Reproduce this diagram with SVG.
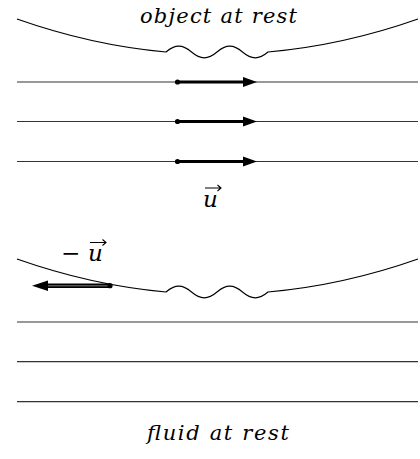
<svg xmlns="http://www.w3.org/2000/svg" width="420" height="459" viewBox="0 0 420 459">
<style>
.surf{fill:none;stroke:#000;stroke-width:1.1}
.stream{fill:none;stroke:#333;stroke-width:1.2}
.shaft{stroke:#000;stroke-width:3.2;fill:none}
.head{fill:#000}
.acc{fill:none;stroke:#000;stroke-width:1.1}
</style>
<rect fill="#fff" width="420" height="459"/>
<g id="object-top">
<path class="surf" d="M17 19 Q91.5 45.3 166 52 C175.2 44.2 182.3 44.2 191.5 52 C200.7 59.8 207.8 59.8 217 52 C226.2 44.2 233.3 44.2 242.5 52 C251.7 59.8 258.8 59.8 268 52 Q343.5 45.3 418 19"/>
<text x="140" y="23" font-family="DejaVu Serif, serif" font-style="italic" font-size="21" textLength="157" lengthAdjust="spacing">object at rest</text>
</g>
<g id="streamlines-top">
<line class="stream" x1="17" y1="82" x2="418" y2="82"/>
<line class="stream" x1="17" y1="121.5" x2="418" y2="121.5"/>
<line class="stream" x1="17" y1="161.5" x2="418" y2="161.5"/>
</g>
<g id="connectors">
<g id="u-arrows">
<line class="shaft" x1="177" y1="82" x2="245" y2="82"/>
<circle cx="177.5" cy="82" r="2.6" class="head"/>
<polygon class="head" points="243,77 257,82 243,87"/>
<line class="shaft" x1="177" y1="121.5" x2="245" y2="121.5"/>
<circle cx="177.5" cy="121.5" r="2.6" class="head"/>
<polygon class="head" points="243,116.5 257,121.5 243,126.5"/>
<line class="shaft" x1="177" y1="161.5" x2="245" y2="161.5"/>
<circle cx="177.5" cy="161.5" r="2.6" class="head"/>
<polygon class="head" points="243,156.5 257,161.5 243,166.5"/>
</g>
<g id="minus-u-arrow">
<line stroke="#000" stroke-width="4.6" x1="46" y1="285.7" x2="110" y2="285.7"/>
<line stroke="#555" stroke-width="1.4" x1="46" y1="285.7" x2="108" y2="285.7"/>
<circle cx="110" cy="285.7" r="2.6" class="head"/>
<polygon class="head" points="48,280.5 32,285.7 48,290.9"/>
</g>
</g>
<g id="u-label">
<text x="203" y="207" font-family="DejaVu Serif, serif" font-style="italic" font-size="23">u</text>
<path class="acc" d="M205 188 H221 M217.5 185 L221 188 L217.5 191"/>
</g>
<g id="object-bottom">
<path class="surf" d="M17 259 Q91.5 285.3 166 292 C175.2 284.2 182.3 284.2 191.5 292 C200.7 299.8 207.8 299.8 217 292 C226.2 284.2 233.3 284.2 242.5 292 C251.7 299.8 258.8 299.8 268 292 Q343.5 285.3 418 259"/>
<text x="61" y="261" font-family="DejaVu Serif, serif" font-size="23">−<tspan x="88" font-style="italic">u</tspan></text>
<path class="acc" d="M90 242.5 H106 M102.5 239.5 L106 242.5 L102.5 245.5"/>
</g>
<g id="streamlines-bottom">
<line class="stream" x1="17" y1="322" x2="418" y2="322"/>
<line class="stream" x1="17" y1="361.7" x2="418" y2="361.7"/>
<line class="stream" x1="17" y1="401.7" x2="418" y2="401.7"/>
<text x="147" y="440" font-family="DejaVu Serif, serif" font-style="italic" font-size="21" textLength="142" lengthAdjust="spacing">fluid at rest</text>
</g>
</svg>
